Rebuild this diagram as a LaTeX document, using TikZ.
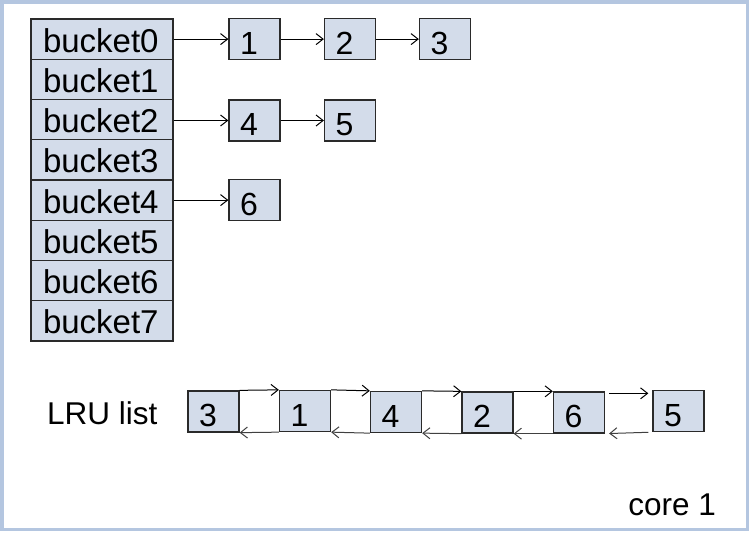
\documentclass[tikz,border=0pt]{standalone}
\usepackage{fontspec}
\setmainfont{Liberation Sans}
\usetikzlibrary{arrows.meta}
\definecolor{frameblue}{HTML}{B4C6E0}
\definecolor{boxfill}{HTML}{D3DCEA}
\definecolor{boxdraw}{HTML}{2A2A2A}
\begin{document}
\begin{tikzpicture}[x=1pt,y=-1pt,
  cell/.style={draw=boxdraw, fill=boxfill, line width=1.3pt, rectangle,
    minimum height=40.25pt, minimum width=142pt, inner xsep=12pt, inner ysep=0pt,
    text width=118pt, align=left, text height=26pt, text depth=0pt,
    font=\fontsize{33}{36}\selectfont},
  item/.style={draw=boxdraw, fill=boxfill, line width=1.3pt, rectangle,
    minimum height=41pt, minimum width=51pt, inner xsep=11pt, inner ysep=0pt,
    text width=29pt, align=left, text height=30pt, text depth=0pt,
    font=\fontsize{32}{36}\selectfont},
  link/.style={-{Straight Barb[length=7pt,width=11pt,line width=1pt]}, line width=1pt, draw=black},
  back/.style={-{Straight Barb[length=7pt,width=11pt,line width=1pt]}, line width=1pt, draw=black!75},
  lbl/.style={font=\fontsize{31.5}{36}\selectfont, inner sep=0pt}
]
\useasboundingbox (0,0) rectangle (750,541);
\draw[frameblue, line width=3.5pt] (2,1.8) rectangle (747.5,529.5);

% buckets
\node[cell] (b0) at (102,39.1) {bucket0};
\node[cell] (b1) at (102,79.4) {bucket1};
\node[cell] (b2) at (102,119.6) {bucket2};
\node[cell] (b3) at (102,159.9) {bucket3};
\node[cell] (b4) at (102,200.1) {bucket4};
\node[cell] (b5) at (102,240.4) {bucket5};
\node[cell] (b6) at (102,280.6) {bucket6};
\node[cell] (b7) at (102,320.9) {bucket7};

% hash chains
\node[item] (h1) at (254.5,39.1) {1};
\node[item] (h2) at (350,39.1) {2};
\node[item] (h3) at (445,39.1) {3};
\node[item] (h4) at (254.5,120.5) {4};
\node[item] (h5) at (350,120.5) {5};
\node[item] (h6) at (254.5,200.1) {6};

\draw[link] (b0.east) -- (h1.west);
\draw[link] (h1.east) -- (h2.west);
\draw[link] (h2.east) -- (h3.west);
\draw[link] (b2.east |- h4.west) -- (h4.west);
\draw[link] (h4.east) -- (h5.west);
\draw[link] (b4.east) -- (h6.west);

% LRU list
\node[lbl, anchor=base west] (lru) at (47,424) {LRU list};
\node[item] (l3) at (213.5,411.5) {3};
\node[item] (l1) at (305,411) {1};
\node[item] (l4) at (396,412) {4};
\node[item] (l2) at (487.5,412.5) {2};
\node[item] (l6) at (579,412.5) {6};
\node[item] (l5) at (678.5,411) {5};

\draw[link] (l3.north east) -- (l1.north west);
\draw[link] (l1.north east) -- (l4.north west);
\draw[link] (l4.north east) -- (l2.north west);
\draw[link] (l2.north east) -- (l6.north west);
\draw[link, shorten <=4pt, shorten >=4pt] (l6.north east) ++(0,2) coordinate (f6) (f6) -- (l5.north west |- f6);

\draw[back] (l1.south west) -- (l3.south east);
\draw[back] (l4.south west) -- (l1.south east);
\draw[back] (l2.south west) -- (l4.south east);
\draw[back] (l6.south west) -- (l2.south east);
\draw[back, shorten <=4pt, shorten >=4pt] (l5.south west) -- (l6.south east);

\node[lbl, anchor=base east] (core) at (716,515) {core 1};
\end{tikzpicture}
\end{document}
